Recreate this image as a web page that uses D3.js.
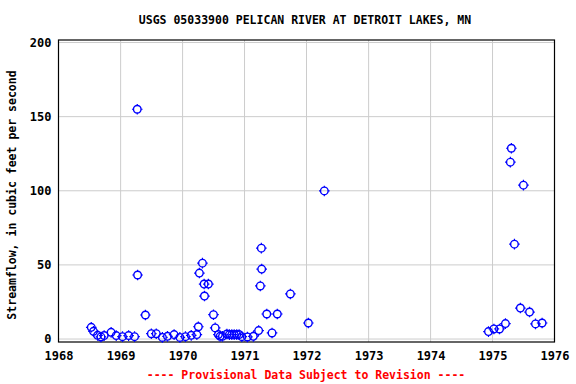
<!DOCTYPE html>
<html><head><meta charset="utf-8">
<script src="https://cdn.jsdelivr.net/npm/d3@7"></script>
<style>body{margin:0;background:#fff}svg{display:block}</style>
</head><body>
<script>
const dates = ["1968-07-12","1968-07-25","1968-08-18","1968-09-07","1968-09-26","1968-11-06","1968-12-06",
"1969-01-12","1969-02-17","1969-03-24","1969-04-09","1969-04-11","1969-05-27","1969-07-01","1969-07-30","1969-09-04","1969-10-04","1969-11-12","1969-12-16",
"1970-01-18","1970-02-21","1970-03-26","1970-04-04","1970-04-10","1970-04-28","1970-05-08","1970-06-02","1970-05-10","1970-07-02","1970-07-12","1970-07-31","1970-08-10","1970-08-24","1970-09-19","1970-10-04","1970-10-18","1970-11-01","1970-11-16","1970-11-30","1970-12-16",
"1971-01-18","1971-02-22","1971-03-25","1971-04-10","1971-04-12","1971-04-04","1971-05-12","1971-06-12","1971-07-13","1971-09-28",
"1972-01-12","1972-04-15",
"1974-12-08","1975-01-09","1975-02-11","1975-03-18","1975-04-16","1975-04-22","1975-05-10","1975-06-14","1975-07-02","1975-08-07","1975-09-11","1975-10-20"];
const flows = [7.9,5.2,2.5,1.4,2.3,4.5,2.3,
1.6,2.3,1.6,155,43.2,16.2,3.6,3.6,1.1,1.8,3.0,1.1,
1.6,2.5,3.0,8.3,44.5,51.2,37.1,37.1,29,16.4,7.5,3.0,1.8,1.8,3.4,3.0,3.0,3.0,3.0,3.0,1.6,
1.4,1.8,5.7,61.3,47.2,35.8,16.9,4.1,16.9,30.4,
10.8,99.9,
5.0,6.8,6.8,10.4,119.3,128.7,64,20.9,103.8,18.2,10.2,10.8];
const xTickYears = [1968,1969,1970,1971,1972,1973,1974,1975,1976];
const yTicks = [0,50,100,150,200];
const title = "USGS 05033900 PELICAN RIVER AT DETROIT LAKES, MN";
const yTitle = "Streamflow, in cubic feet per second";
const footer = "---- Provisional Data Subject to Revision ----";

const W=576,H=384, L=58.5, R=554.5, T=40, B=342;
const svg = d3.select("body").append("svg").attr("width",W).attr("height",H);
const font = "'DejaVu Sans Mono', 'Liberation Mono', monospace";
const x = d3.scaleTime().domain([new Date(1968,0,1), new Date(1976,0,1)]).range([L,R]);
const y = d3.scaleLinear().domain([-2,201.7]).range([B,T]);

const g = svg.append("g");
g.selectAll(".gx").data(xTickYears.slice(1,-1)).join("line")
  .attr("x1",d=>x(new Date(d,0,1))).attr("x2",d=>x(new Date(d,0,1)))
  .attr("y1",T).attr("y2",B).attr("stroke","#cccccc").attr("stroke-width",1);
g.selectAll(".gy").data(yTicks).join("line")
  .attr("x1",L).attr("x2",R).attr("y1",d=>y(d)).attr("y2",d=>y(d))
  .attr("stroke","#cccccc").attr("stroke-width",1);
g.append("rect").attr("x",L).attr("y",T).attr("width",R-L).attr("height",B-T)
  .attr("fill","none").attr("stroke","#000").attr("stroke-width",1.2);

const fs = 11.5;
const xAxis = d3.axisBottom(x).tickValues(xTickYears.map(d=>new Date(d,0,1))).tickFormat(d3.timeFormat("%Y")).tickSize(0).tickPadding(9);
const ax = svg.append("g").attr("transform",`translate(0,${B})`).call(xAxis);
ax.select(".domain").remove();
ax.selectAll("text").attr("font-family",font).attr("font-weight","bold").attr("font-size",fs+0.5).attr("fill","#000");
const yAxis = d3.axisLeft(y).tickValues(yTicks).tickSize(0).tickPadding(7);
const ay = svg.append("g").attr("transform",`translate(${L},0)`).call(yAxis);
ay.select(".domain").remove();
ay.selectAll("text").attr("font-family",font).attr("font-weight","bold").attr("font-size",fs+0.5).attr("fill","#000");

const data = dates.map((d,i)=>({date:d3.timeParse("%Y-%m-%d")(d), v:flows[i]}));
const pts = svg.append("g").selectAll("g").data(data).join("g")
  .attr("transform",d=>`translate(${x(d.date)},${y(d.v)})`);
pts.append("circle").attr("r",3.8).attr("fill","none").attr("stroke","#0000ff").attr("stroke-width",1.4);
pts.append("path").attr("d","M0,-5.3V-3.8M0,3.8V5.3M-5.3,0H-3.8M3.8,0H5.3").attr("stroke","#0000ff").attr("stroke-width",1.2);

svg.append("text").attr("x",305).attr("y",24).attr("text-anchor","middle")
  .attr("font-family",font).attr("font-weight","bold").attr("font-size",fs).text(title);
svg.append("text").attr("transform",`translate(16,195) rotate(-90)`).attr("text-anchor","middle")
  .attr("font-family",font).attr("font-weight","bold").attr("font-size",fs).text(yTitle);
svg.append("text").attr("x",306).attr("y",379).attr("text-anchor","middle").attr("fill","#ff0000")
  .attr("font-family",font).attr("font-weight","bold").attr("font-size",fs).text(footer);
</script>
</body></html>
